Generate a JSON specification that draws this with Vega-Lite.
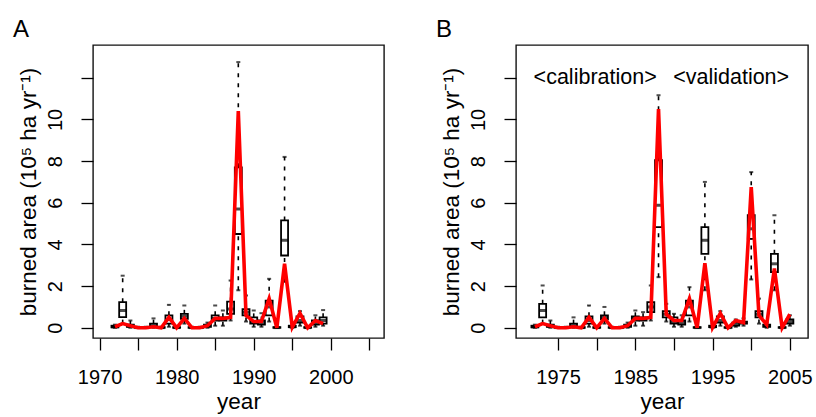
{
  "$schema": "https://vega.github.io/schema/vega-lite/v6.json",
  "padding": {"left": 12, "top": 17, "right": 5, "bottom": 2},
  "datasets": {
    "dA": [
      {"year":1972,"min":0,"q1":0.02,"med":0.05,"q3":0.1,"max":0.15,"obs":0.05},
      {"year":1973,"min":0.2,"q1":0.51,"med":0.83,"q3":1.23,"max":2.5,"obs":0.2},
      {"year":1974,"min":0,"q1":0.05,"med":0.08,"q3":0.15,"max":0.35,"obs":0.1},
      {"year":1975,"min":0,"q1":0,"med":0.01,"q3":0.03,"max":0.05,"obs":0},
      {"year":1976,"min":0,"q1":0,"med":0.01,"q3":0.03,"max":0.05,"obs":0},
      {"year":1977,"min":0,"q1":0.05,"med":0.1,"q3":0.2,"max":0.45,"obs":0.05},
      {"year":1978,"min":0,"q1":0,"med":0.01,"q3":0.03,"max":0.05,"obs":0},
      {"year":1979,"min":0.05,"q1":0.2,"med":0.4,"q3":0.6,"max":1.1,"obs":0.5},
      {"year":1980,"min":0,"q1":0,"med":0.01,"q3":0.03,"max":0.05,"obs":0},
      {"year":1981,"min":0.2,"q1":0.43,"med":0.55,"q3":0.67,"max":1.07,"obs":0.45},
      {"year":1982,"min":0,"q1":0,"med":0.01,"q3":0.03,"max":0.05,"obs":0},
      {"year":1983,"min":0,"q1":0,"med":0.01,"q3":0.03,"max":0.05,"obs":0},
      {"year":1984,"min":0,"q1":0.05,"med":0.1,"q3":0.15,"max":0.25,"obs":0.1},
      {"year":1985,"min":0.1,"q1":0.35,"med":0.45,"q3":0.6,"max":1.07,"obs":0.45},
      {"year":1986,"min":0.1,"q1":0.35,"med":0.42,"q3":0.5,"max":0.83,"obs":0.45},
      {"year":1987,"min":0.35,"q1":0.67,"med":0.9,"q3":1.26,"max":2.27,"obs":0.5},
      {"year":1988,"min":1.8,"q1":4.5,"med":5.7,"q3":7.7,"max":12.75,"obs":10.4},
      {"year":1989,"min":0.3,"q1":0.6,"med":0.75,"q3":0.9,"max":1.55,"obs":0.6},
      {"year":1990,"min":0.05,"q1":0.2,"med":0.3,"q3":0.5,"max":0.83,"obs":0.3},
      {"year":1991,"min":0.05,"q1":0.15,"med":0.25,"q3":0.35,"max":0.7,"obs":0.3},
      {"year":1992,"min":0.3,"q1":0.6,"med":1.0,"q3":1.3,"max":2.35,"obs":1.4},
      {"year":1993,"min":0,"q1":0,"med":0.01,"q3":0.03,"max":0.05,"obs":0},
      {"year":1994,"min":2.2,"q1":3.47,"med":4.2,"q3":5.15,"max":8.2,"obs":3.07},
      {"year":1995,"min":0,"q1":0.03,"med":0.05,"q3":0.1,"max":0.2,"obs":0.03},
      {"year":1996,"min":0.1,"q1":0.25,"med":0.35,"q3":0.55,"max":0.8,"obs":0.7},
      {"year":1997,"min":0,"q1":0,"med":0.01,"q3":0.03,"max":0.05,"obs":0},
      {"year":1998,"min":0.05,"q1":0.15,"med":0.25,"q3":0.35,"max":0.6,"obs":0.35},
      {"year":1999,"min":0.1,"q1":0.2,"med":0.35,"q3":0.5,"max":0.85,"obs":0.2}
    ],
    "dB": [
      {"year":1972,"min":0,"q1":0.02,"med":0.05,"q3":0.1,"max":0.15,"obs":0.05},
      {"year":1973,"min":0.2,"q1":0.5,"med":0.83,"q3":1.15,"max":2.03,"obs":0.2},
      {"year":1974,"min":0,"q1":0.05,"med":0.08,"q3":0.15,"max":0.35,"obs":0.1},
      {"year":1975,"min":0,"q1":0,"med":0.01,"q3":0.03,"max":0.05,"obs":0},
      {"year":1976,"min":0,"q1":0,"med":0.01,"q3":0.03,"max":0.05,"obs":0},
      {"year":1977,"min":0,"q1":0.05,"med":0.1,"q3":0.2,"max":0.5,"obs":0.05},
      {"year":1978,"min":0,"q1":0,"med":0.01,"q3":0.03,"max":0.05,"obs":0},
      {"year":1979,"min":0.05,"q1":0.2,"med":0.35,"q3":0.55,"max":1.07,"obs":0.5},
      {"year":1980,"min":0,"q1":0,"med":0.01,"q3":0.03,"max":0.05,"obs":0},
      {"year":1981,"min":0.2,"q1":0.4,"med":0.5,"q3":0.6,"max":1.0,"obs":0.45},
      {"year":1982,"min":0,"q1":0,"med":0.01,"q3":0.03,"max":0.05,"obs":0},
      {"year":1983,"min":0,"q1":0,"med":0.01,"q3":0.03,"max":0.05,"obs":0},
      {"year":1984,"min":0,"q1":0.05,"med":0.1,"q3":0.15,"max":0.25,"obs":0.1},
      {"year":1985,"min":0.1,"q1":0.35,"med":0.45,"q3":0.55,"max":0.83,"obs":0.45},
      {"year":1986,"min":0.1,"q1":0.35,"med":0.42,"q3":0.5,"max":0.75,"obs":0.45},
      {"year":1987,"min":0.35,"q1":0.75,"med":1.0,"q3":1.23,"max":2.03,"obs":0.5},
      {"year":1988,"min":2.43,"q1":4.83,"med":5.88,"q3":8.04,"max":11.16,"obs":10.5},
      {"year":1989,"min":0.3,"q1":0.5,"med":0.65,"q3":0.8,"max":1.15,"obs":0.65},
      {"year":1990,"min":0.05,"q1":0.2,"med":0.3,"q3":0.5,"max":0.67,"obs":0.35},
      {"year":1991,"min":0.05,"q1":0.15,"med":0.25,"q3":0.35,"max":0.6,"obs":0.35},
      {"year":1992,"min":0.3,"q1":0.6,"med":1.0,"q3":1.3,"max":1.95,"obs":1.4},
      {"year":1993,"min":0,"q1":0,"med":0.01,"q3":0.03,"max":0.05,"obs":0},
      {"year":1994,"min":1.8,"q1":3.55,"med":4.2,"q3":4.83,"max":7.0,"obs":3.1},
      {"year":1995,"min":0,"q1":0.03,"med":0.05,"q3":0.1,"max":0.2,"obs":0.02},
      {"year":1996,"min":0.1,"q1":0.25,"med":0.35,"q3":0.55,"max":0.8,"obs":0.7},
      {"year":1997,"min":0,"q1":0,"med":0.01,"q3":0.03,"max":0.05,"obs":0},
      {"year":1998,"min":0.05,"q1":0.1,"med":0.15,"q3":0.25,"max":0.4,"obs":0.35},
      {"year":1999,"min":0.1,"q1":0.2,"med":0.25,"q3":0.3,"max":0.45,"obs":0.25},
      {"year":2000,"min":2.32,"q1":4.27,"med":4.75,"q3":5.4,"max":7.47,"obs":6.75},
      {"year":2001,"min":0.2,"q1":0.5,"med":0.65,"q3":0.8,"max":1.4,"obs":0.6},
      {"year":2002,"min":0,"q1":0.05,"med":0.1,"q3":0.15,"max":0.25,"obs":0.15},
      {"year":2003,"min":1.8,"q1":2.67,"med":3.07,"q3":3.55,"max":5.4,"obs":2.85},
      {"year":2004,"min":0,"q1":0,"med":0.01,"q3":0.03,"max":0.05,"obs":0},
      {"year":2005,"min":0.1,"q1":0.2,"med":0.3,"q3":0.4,"max":0.6,"obs":0.65}
    ],
    "notes": [
      {"x":1979.8,"y":12,"label":"<calibration>"},
      {"x":1997.4,"y":12,"label":"<validation>"}
    ]
  },
  "spacing": 50,
  "hconcat": [
    {
      "width": 291,
      "height": 293,
      "title": {"text": "A", "anchor": "start", "frame": "group", "dx": -80, "fontSize": 24, "fontWeight": "normal", "font": "Liberation Sans", "offset": 3},
      "data": {"name": "dA"},
      "encoding": {
        "x": {"field": "year", "type": "quantitative",
              "scale": {"domain": [1969.8, 2006.25], "nice": false, "zero": false},
              "axis": {"title": "year", "values": [1970,1975,1980,1985,1990,1995,2000,2005],
                       "labelExpr": "datum.value % 10 == 0 ? datum.label : ''", "format": "d"}},
        "y": {"type": "quantitative",
              "scale": {"domain": [-0.49, 13.57], "nice": false, "zero": false},
              "axis": {"title": "burned area (10⁵ ha yr⁻¹)", "values": [0,2,4,6,8,10,12],
                       "labelExpr": "datum.value == 12 ? '' : datum.label"}}
      },
      "layer": [
        {"mark": {"type": "rule", "strokeDash": [4, 6], "strokeWidth": 1.6, "color": "black"},
         "encoding": {"y": {"field": "q3", "type": "quantitative"}, "y2": {"field": "max"}}},
        {"mark": {"type": "rule", "strokeDash": [4, 6], "strokeWidth": 1.6, "color": "black"},
         "encoding": {"y": {"field": "min", "type": "quantitative"}, "y2": {"field": "q1"}}},
        {"mark": {"type": "tick", "orient": "horizontal", "size": 4, "thickness": 2, "color": "black"},
         "encoding": {"y": {"field": "max", "type": "quantitative"}}},
        {"mark": {"type": "tick", "orient": "horizontal", "size": 4, "thickness": 2, "color": "black"},
         "encoding": {"y": {"field": "min", "type": "quantitative"}}},
        {"mark": {"type": "bar", "size": 7, "fill": "white", "stroke": "black", "strokeWidth": 1.8},
         "encoding": {"y": {"field": "q1", "type": "quantitative"}, "y2": {"field": "q3"}}},
        {"mark": {"type": "tick", "orient": "horizontal", "size": 7, "thickness": 3, "color": "black"},
         "encoding": {"y": {"field": "med", "type": "quantitative"}}},
        {"mark": {"type": "line", "color": "#ff0000", "strokeWidth": 3.6},
         "encoding": {"y": {"field": "obs", "type": "quantitative"}}}
      ]
    },
    {
      "width": 292,
      "height": 293,
      "title": {"text": "B", "anchor": "start", "frame": "group", "dx": -80, "fontSize": 24, "fontWeight": "normal", "font": "Liberation Sans", "offset": 3},
      "encoding": {
        "x": {"type": "quantitative",
              "scale": {"domain": [1970.2, 2006.7], "nice": false, "zero": false},
              "axis": {"title": "year", "values": [1975,1980,1985,1990,1995,2000,2005],
                       "labelExpr": "(datum.value - 1975) % 10 == 0 ? datum.label : ''", "format": "d"}},
        "y": {"type": "quantitative",
              "scale": {"domain": [-0.49, 13.57], "nice": false, "zero": false},
              "axis": {"title": "burned area (10⁵ ha yr⁻¹)", "values": [0,2,4,6,8,10,12],
                       "labelExpr": "datum.value == 12 ? '' : datum.label"}}
      },
      "layer": [
        {"data": {"name": "dB"},
         "mark": {"type": "rule", "strokeDash": [4, 6], "strokeWidth": 1.6, "color": "black"},
         "encoding": {"x": {"field": "year", "type": "quantitative"}, "y": {"field": "q3", "type": "quantitative"}, "y2": {"field": "max"}}},
        {"data": {"name": "dB"},
         "mark": {"type": "rule", "strokeDash": [4, 6], "strokeWidth": 1.6, "color": "black"},
         "encoding": {"x": {"field": "year", "type": "quantitative"}, "y": {"field": "min", "type": "quantitative"}, "y2": {"field": "q1"}}},
        {"data": {"name": "dB"},
         "mark": {"type": "tick", "orient": "horizontal", "size": 4, "thickness": 2, "color": "black"},
         "encoding": {"x": {"field": "year", "type": "quantitative"}, "y": {"field": "max", "type": "quantitative"}}},
        {"data": {"name": "dB"},
         "mark": {"type": "tick", "orient": "horizontal", "size": 4, "thickness": 2, "color": "black"},
         "encoding": {"x": {"field": "year", "type": "quantitative"}, "y": {"field": "min", "type": "quantitative"}}},
        {"data": {"name": "dB"},
         "mark": {"type": "bar", "size": 7, "fill": "white", "stroke": "black", "strokeWidth": 1.8},
         "encoding": {"x": {"field": "year", "type": "quantitative"}, "y": {"field": "q1", "type": "quantitative"}, "y2": {"field": "q3"}}},
        {"data": {"name": "dB"},
         "mark": {"type": "tick", "orient": "horizontal", "size": 7, "thickness": 3, "color": "black"},
         "encoding": {"x": {"field": "year", "type": "quantitative"}, "y": {"field": "med", "type": "quantitative"}}},
        {"data": {"name": "dB"},
         "mark": {"type": "line", "color": "#ff0000", "strokeWidth": 3.6},
         "encoding": {"x": {"field": "year", "type": "quantitative"}, "y": {"field": "obs", "type": "quantitative"}}},
        {"data": {"name": "notes"},
         "mark": {"type": "text", "font": "Liberation Sans", "fontSize": 21.5, "color": "black", "baseline": "middle", "align": "center"},
         "encoding": {"x": {"field": "x", "type": "quantitative"}, "y": {"field": "y", "type": "quantitative"}, "text": {"field": "label"}}}
      ]
    }
  ],
  "config": {
    "font": "Liberation Sans",
    "view": {"stroke": "#111111", "strokeWidth": 1.4},
    "axis": {
      "domain": false, "grid": false, "tickColor": "black", "tickSize": 12, "tickWidth": 1.3,
      "labelFont": "Liberation Sans", "labelFontSize": 20, "labelColor": "black",
      "titleFont": "Liberation Sans", "titleFontSize": 22.5, "titleFontWeight": "normal", "titleColor": "black",
      "labelPadding": 8, "titlePadding": 5
    },
    "axisY": {"labelAngle": -90, "labelAlign": "center", "labelBaseline": "bottom", "labelPadding": 16},
    "axisX": {"labelPadding": 17, "titlePadding": 3}
  }
}
